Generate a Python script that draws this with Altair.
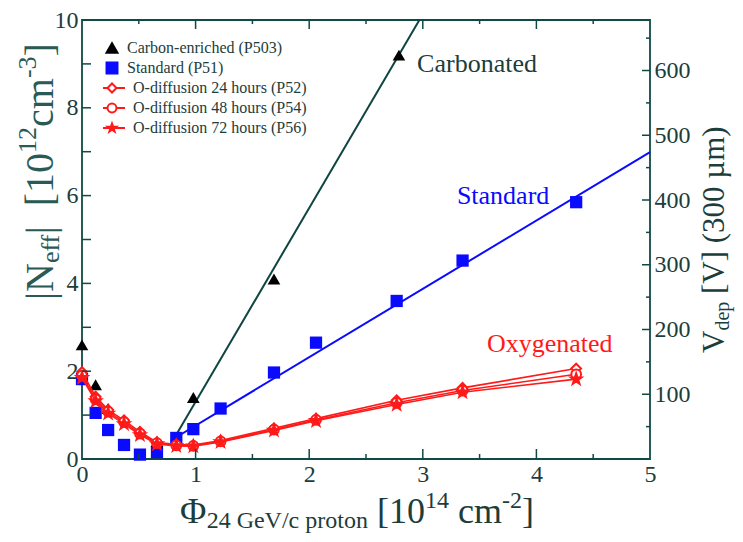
import altair as alt
import pandas as pd

# ---------------- data ----------------
CARB_X = [0.0, 0.12, 0.23, 0.66, 0.98, 1.69, 2.79]
CARB_N = [2.60, 1.69, 1.15, 0.40, 1.40, 4.10, 9.20]

STD_X = [0.0, 0.12, 0.23, 0.37, 0.51, 0.66, 0.83, 0.98, 1.22, 1.69, 2.06, 2.77, 3.35, 4.35]
STD_N = [1.82, 1.05, 0.66, 0.32, 0.10, 0.16, 0.48, 0.68, 1.15, 1.97, 2.65, 3.60, 4.52, 5.85]

OXY_X = [0.0, 0.12, 0.23, 0.37, 0.51, 0.66, 0.83, 0.98, 1.22, 1.69, 2.06, 2.77, 3.35, 4.35]
O24_N = [1.98, 1.42, 1.12, 0.88, 0.62, 0.38, 0.33, 0.32, 0.42, 0.70, 0.92, 1.34, 1.62, 2.06]
O48_N = [1.90, 1.36, 1.08, 0.84, 0.58, 0.36, 0.31, 0.30, 0.40, 0.67, 0.89, 1.28, 1.56, 1.93]
O72_N = [1.85, 1.32, 1.04, 0.80, 0.55, 0.34, 0.30, 0.29, 0.39, 0.65, 0.87, 1.24, 1.52, 1.82]

FIT_C_X = [0.80, 2.97]
FIT_C_N = [0.42, 10.0]
FIT_S_X = [0.80, 5.00]
FIT_S_N = [0.45, 6.99]

X_LABELS = [0, 1, 2, 3, 4, 5]
Y_LABELS = [0, 2, 4, 6, 8, 10]
V_LABELS = [100, 200, 300, 400, 500, 600]
Y_TICKS = [1, 2, 3, 4, 5, 6, 7, 8, 9]
X_MAJOR = [1, 2, 3, 4]
X_MINOR = [0.5, 1.5, 2.5, 3.5, 4.5]
V_MAJOR = [100, 200, 300, 400, 500, 600]
V_MINOR = [50, 150, 250, 350, 450, 550, 650]

LABEL_TEXT = ["Carbonated", "Standard", "Oxygenated"]
LABEL_X = [2.95, 3.30, 3.565]
LABEL_N = [8.82, 5.81, 2.44]

LEG_TEXT = ["Carbon-enriched (P503)", "Standard (P51)", "O-diffusion 24 hours (P52)",
            "O-diffusion 48 hours (P54)", "O-diffusion 72 hours (P56)"]

# ---------------- style ----------------
W, H = 568, 439
FONT = "Liberation Serif"
TEAL = "#0f4a45"
TXT = "#1d3d3a"
BLUE = "#0a0aff"
RED = "#ff1a1a"
FITC = "#0e4540"
STAR = ("M0,-1L0.235,-0.324L0.951,-0.309L0.38,0.124L0.588,0.809L0,0.4"
        "L-0.588,0.809L-0.38,0.124L-0.951,-0.309L-0.235,-0.324Z")

xs = alt.Scale(domain=[0, 5], nice=False, zero=False)
ys = alt.Scale(domain=[0, 10], nice=False, zero=False)
vs = alt.Scale(domain=[0, 678], nice=False, zero=False)

ax_x = alt.Axis(values=X_LABELS, ticks=False, domain=False, grid=False, labelFlush=False,
                labelPadding=3, labelFontSize=24, labelFont=FONT, labelColor=TXT,
                title=None, format="d", labelOverlap=False)
ax_y = alt.Axis(values=Y_LABELS, ticks=False, domain=False, grid=False, labelPadding=4,
                labelFontSize=24, labelFont=FONT, labelColor=TXT, title=None,
                format="d", labelOverlap=False)
ax_v = alt.Axis(values=V_LABELS, orient="right", ticks=False, domain=False, grid=False,
                labelPadding=4, labelFontSize=24, labelFont=FONT, labelColor=TXT,
                title=None, format="d", labelOverlap=False)


def X(f):
    return alt.X(f, type="quantitative", scale=xs, axis=ax_x)


def Y(f):
    return alt.Y(f, type="quantitative", scale=ys, axis=ax_y)


def df(**kw):
    return pd.DataFrame(kw)


ONE = pd.DataFrame({"k": [0]})

layers = []

# fits
layers.append(alt.Chart(df(x=FIT_C_X, N=FIT_C_N)).mark_line(color=FITC, strokeWidth=2)
              .encode(x=X("x"), y=Y("N")))
layers.append(alt.Chart(df(x=FIT_S_X, N=FIT_S_N)).mark_line(color=BLUE, strokeWidth=2)
              .encode(x=X("x"), y=Y("N")))
# standard squares
layers.append(alt.Chart(df(x=STD_X, N=STD_N)).mark_point(shape="square", filled=True,
              color=BLUE, size=150, opacity=1).encode(x=X("x"), y=Y("N")))
# carbon triangles
layers.append(alt.Chart(df(x=CARB_X, N=CARB_N)).mark_point(shape="triangle-up", filled=True,
              color="#000000", size=160, opacity=1).encode(x=X("x"), y=Y("N")))
# oxygenated
for vals, shape, fill in [(O24_N, "diamond", "white"), (O48_N, "circle", "white"),
                          (O72_N, STAR, RED)]:
    d = df(x=OXY_X, N=vals)
    layers.append(alt.Chart(d).mark_line(color=RED, strokeWidth=1.6)
                  .encode(x=X("x"), y=Y("N")))
    layers.append(alt.Chart(d).mark_point(shape=shape, filled=True, fill=fill, stroke=RED,
                  strokeWidth=2, size=95 if shape != STAR else 130, opacity=1)
                  .encode(x=X("x"), y=Y("N")))

# series labels
for t, lx, ln, col in zip(LABEL_TEXT, LABEL_X, LABEL_N, [TXT, BLUE, RED]):
    layers.append(alt.Chart(df(x=[lx], N=[ln])).mark_text(text=t, align="left",
                  baseline="alphabetic", font=FONT, fontSize=26, color=col)
                  .encode(x=X("x"), y=Y("N")))

# inward ticks: left, bottom, top
layers.append(alt.Chart(df(t=Y_TICKS)).mark_rule(color=TEAL, strokeWidth=1.5)
              .encode(y=Y("t"), x=alt.value(0), x2=alt.value(9)))
for vals, ln in [(X_MAJOR, 10), (X_MINOR, 5)]:
    layers.append(alt.Chart(df(x=vals)).mark_rule(color=TEAL, strokeWidth=1.5)
                  .encode(x=X("x"), y=alt.value(H), y2=alt.value(H - ln)))
for vals, ln in [(X_MAJOR, 9), (X_MINOR, 4)]:
    layers.append(alt.Chart(df(x=vals)).mark_rule(color=TEAL, strokeWidth=1.5)
                  .encode(x=X("x"), y=alt.value(0), y2=alt.value(ln)))

# legend
LEG_Y = [28, 48, 68, 88, 108]
leg_shapes = [("triangle-up", "#000000", "#000000"), ("square", BLUE, BLUE),
              ("diamond", "white", RED), ("circle", "white", RED), (STAR, RED, RED)]
for i, (t, (shp, fill, stroke)) in enumerate(zip(LEG_TEXT, leg_shapes)):
    gy = LEG_Y[i]
    if i >= 2:
        layers.append(alt.Chart(ONE).mark_rule(color=RED, strokeWidth=2)
                      .encode(x=alt.value(21), x2=alt.value(43), y=alt.value(gy)))
    layers.append(alt.Chart(ONE).mark_point(shape=shp, filled=True, fill=fill, stroke=stroke,
                  strokeWidth=2, size=120 if i < 2 else 80, opacity=1)
                  .encode(x=alt.value(30), y=alt.value(gy)))
    layers.append(alt.Chart(ONE).mark_text(text=t, align="left", baseline="middle",
                  font=FONT, fontSize=16, color=TXT)
                  .encode(x=alt.value(45 if i < 2 else 51), y=alt.value(gy)))

# ---------------- axis titles built from pieces ----------------
CW = {" ": .25, "|": .2, "N": .722, "e": .444, "f": .333, "[": .333, "]": .333, "1": .5,
      "0": .5, "2": .5, "3": .5, "4": .5, "c": .444, "m": .778, "-": .333, "Φ": .74,
      "G": .722, "V": .722, "/": .278, "p": .5, "r": .333, "o": .5, "t": .278, "n": .5,
      "d": .5, "(": .333, ")": .333, "µ": .5}


def tw(s, size):
    return sum(CW.get(c, .5) for c in s) * size


def title_pieces(pieces, start, base, vertical, color):
    out = []
    pos = start
    for s, size, shift in pieces:
        lead = len(s) - len(s.lstrip(" "))
        step = tw(" " * lead, size)
        pos = pos - step if vertical else pos + step
        s = s.lstrip(" ")
        if vertical:
            enc = dict(x=alt.value(base + shift), y=alt.value(pos))
            ang = 270
            pos -= tw(s, size)
        else:
            enc = dict(x=alt.value(pos), y=alt.value(base + shift))
            ang = 0
            pos += tw(s, size)
        out.append(alt.Chart(ONE).mark_text(text=s, align="left", baseline="alphabetic",
                   angle=ang, font=FONT, fontSize=size, color=color).encode(**enc))
    return out


layers += title_pieces([("Φ", 36, 0), ("24 GeV/c proton", 24, 5), (" [10", 36, 0),
                        ("14", 24, -15), (" cm", 36, 0), ("-2", 24, -15), ("]", 36, 0)],
                       98, 503, False, TXT)
layers += title_pieces([("|N", 40, 0), ("eff", 26, 6), ("|", 40, 0), ("  [10", 40, 0),
                        ("12", 26, -17), ("cm", 40, 0), ("-3", 26, -17), ("]", 40, 0)],
                       280, -29, True, "#2a5a55")
left = alt.layer(*layers)

right_layers = []
for vals, ln in [(V_MAJOR, 8), (V_MINOR, 4)]:
    right_layers.append(alt.Chart(df(V=vals)).mark_rule(color=TEAL, strokeWidth=1.5)
                        .encode(y=alt.Y("V", type="quantitative", scale=vs, axis=ax_v),
                                x=alt.value(W - ln), x2=alt.value(W)))
right_layers += title_pieces([("V", 31, 0), ("dep", 20, 5), (" [V] (300 µm)", 31, 0)],
                             333, 642, True, TXT)
right = alt.layer(*right_layers)

chart = alt.layer(left, right).resolve_scale(y="independent").properties(
    width=W, height=H,
    autosize=alt.AutoSizeParams(type="none"),
    padding={"left": 74, "top": 12, "right": 85, "bottom": 75},
    background="white",
).configure_view(stroke=TEAL, strokeWidth=1.8).configure_axis(
    labelFont=FONT, labelFontSize=24, labelColor=TXT
).configure_text(font=FONT)

chart.save("out.html", embed_options={"renderer": "svg", "actions": False})
